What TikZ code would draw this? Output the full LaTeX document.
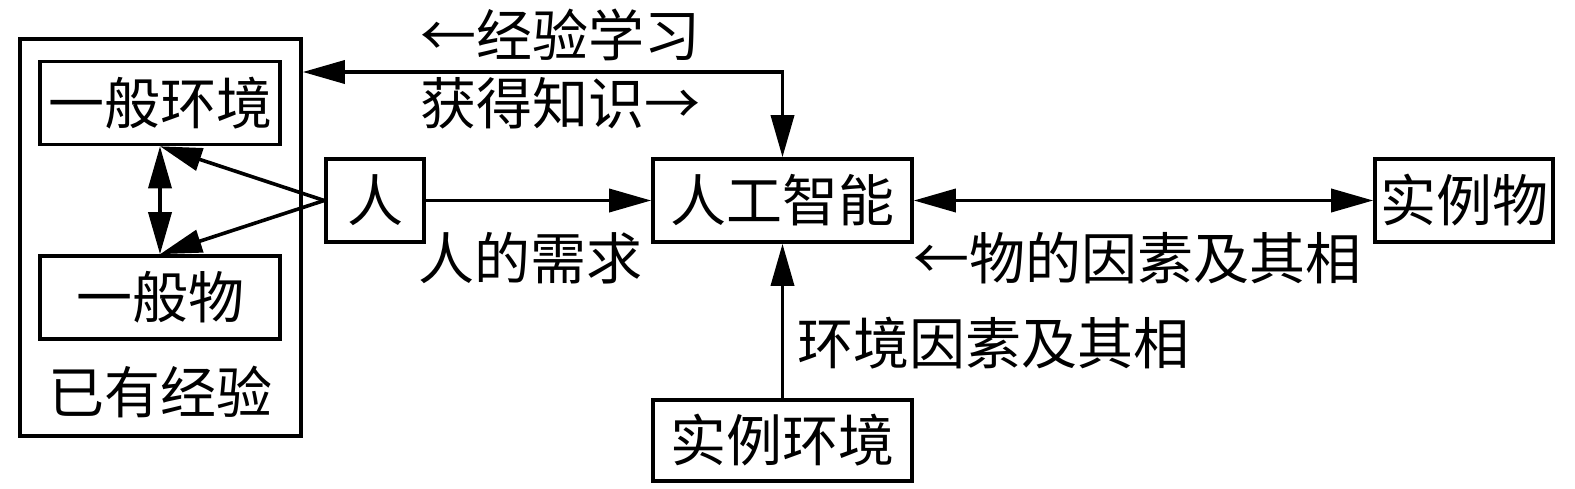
\documentclass[tikz,border=0pt]{standalone}
\usepackage{fontspec}
\newfontfamily\cjk{Noto Sans CJK SC}
\usepackage{xcolor}
\usepackage{tikz}
\usetikzlibrary{positioning, arrows.meta}

\begin{document}
\begin{tikzpicture}[
    x=0.5pt, y=-0.5pt,
    box/.style={
        draw,
        line width=1.8pt,
        align=center,
        font=\cjk\fontsize{28}{33}\selectfont,
        inner sep=0pt,
        minimum width=#1*0.5pt,
        minimum height=41.5pt
    },
    arrow/.style={-{Triangle[length=21pt,width=11.5pt]}, line width=1.8pt},
    biarrow/.style={{Triangle[length=21pt,width=11.5pt]}-{Triangle[length=21pt,width=11.5pt]}, line width=1.8pt},
    lbl/.style={font=\cjk\fontsize{28}{33}\selectfont, inner sep=0pt}
]
\useasboundingbox (0,0) rectangle (1575,488);

\node[box=281, minimum height=198.5pt] (outer) at (160.5,237.5) {};
\node[box=240] (env) at (160,103) {一般环境};
\node[box=240] (obj) at (160,297.5) {一般物};
\node[lbl] (exp) at (160,392) {已有经验};
\node[box=98] (ren) at (375,200.5) {人};
\node[box=259] (ai) at (782.5,200.5) {人工智能};
\node[box=178] (sobj) at (1464,200.5) {实例物};
\node[box=259, minimum height=40.5pt] (senv) at (782.5,440.5) {实例环境};

\coordinate (turn) at (782.5,72);

\draw[biarrow] (outer.east |- turn) -- (turn) -- (ai.north);
\node[lbl] (learn) at (560,35) {←经验学习};
\node[lbl] (know) at (560,103) {获得知识→};

\draw[arrow] (ren.west) -- (env.south);
\draw[arrow] (ren.west) -- (obj.north);
\draw[biarrow] (env.south) -- (obj.north);

\draw[arrow] (ren.east) -- (ai.west);
\node[lbl] (need) at (530,258) {人的需求};

\draw[biarrow] (ai.east) -- (sobj.west);
\node[lbl] (fac1) at (1137,258) {←物的因素及其相};

\draw[arrow] (senv.north) -- (ai.south);
\node[lbl] (fac2) at (993,343) {环境因素及其相};

\end{tikzpicture}
\end{document}
